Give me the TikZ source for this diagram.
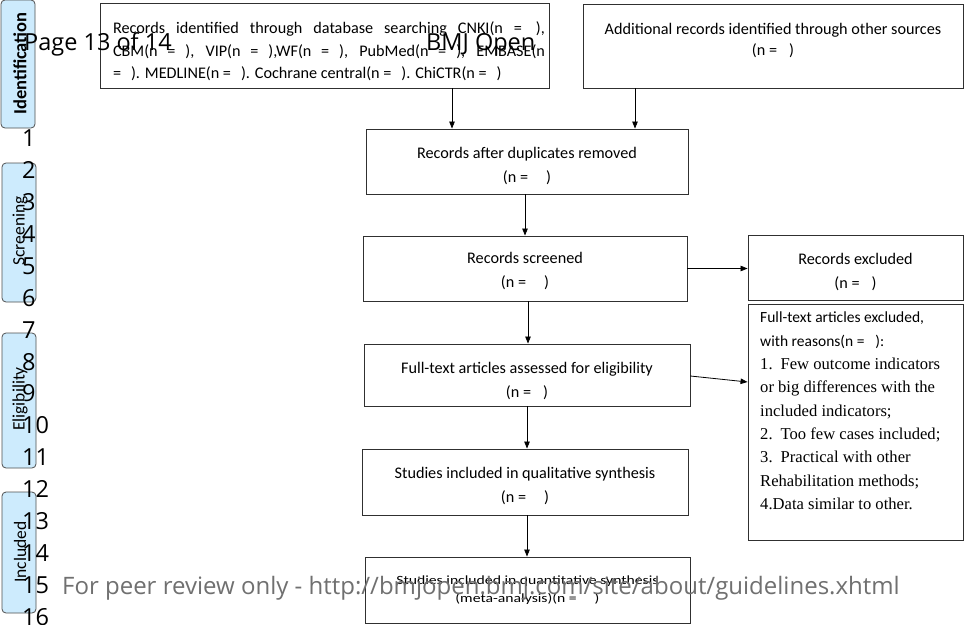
\documentclass[tikz,border=0pt]{standalone}
\usepackage{fontspec}
\setmainfont{Carlito}
\newfontfamily\osans{Open Sans}
\newfontfamily\tnr{Liberation Serif}
\usetikzlibrary{arrows.meta}
\definecolor{stagefill}{HTML}{CDEBFD}
\definecolor{stageline}{HTML}{505050}
\definecolor{boxline}{HTML}{303030}
\definecolor{footgray}{HTML}{707070}
\newcommand\tstrut[1]{\rule{0pt}{#1}}
\newcommand\bstrut[1]{\rule[-#1]{0pt}{#1}}
\newcommand\tnrline[1]{{\tnr\fontsize{16.6}{23.3}\selectfont #1}}
\tikzset{
  flowbox/.style={draw=boxline, line width=0.9pt, inner sep=0pt, align=center,
    font=\fontsize{16.2}{24}\selectfont},
  stagebox/.style={draw=stageline, fill=stagefill, line width=0.8pt, rounded corners=4pt, inner sep=0pt},
  stagetext/.style={rotate=90, inner sep=0pt, font=\fontsize{17.5}{20}\selectfont},
  arr/.style={-{Triangle[length=7pt,width=5.5pt]}, line width=0.8pt, black},
  overlay/.style={font=\osans\fontsize{23.5}{28}\selectfont, inner sep=0pt, anchor=base west},
}
\begin{document}
\begin{tikzpicture}[x=1pt,y=-1pt]
\useasboundingbox (0,0) rectangle (964,624);
\fill[white] (0,0) rectangle (964,624);

% stage boxes
\node[stagebox, minimum width=34pt, minimum height=128pt] (sIdent) at (18,64) {};
\node[stagebox, minimum width=34pt, minimum height=139pt] (sScreen) at (19,232.5) {};
\node[stagebox, minimum width=34pt, minimum height=135pt] (sElig) at (19,400.5) {};
\node[stagebox, minimum width=34pt, minimum height=121pt] (sIncl) at (19,552.5) {};
\node[stagetext, font=\bfseries\fontsize{18.5}{21}\selectfont] (tIdent) at (20,63.5) {Identification};
\node[stagetext] (tScreen) at (20,231) {Screening};
\node[stagetext] (tElig) at (20,399) {Eligibility};
\node[stagetext] (tIncl) at (20,552) {Included};

% flow boxes
\node[flowbox, minimum width=449pt, minimum height=85pt, font=\fontsize{16.2}{22.5}\selectfont, align=left] (db) at (324.5,45.5)
 {\tstrut{23.5pt}\hspace{9pt}\makebox[432pt][s]{Records identified through database searching CNKI(n =\hspace{14pt}),}\\
  \hspace{9pt}\makebox[432pt][s]{CBM(n =\hspace{10pt}), VIP(n =\hspace{10pt}),WF(n =\hspace{10pt}), PubMed(n =\hspace{10pt}), EMBASE(n}\\
  \hspace{9pt}=\hspace{10pt}). MEDLINE(n =\hspace{10pt}). Cochrane central(n =\hspace{10pt}). ChiCTR(n =\hspace{10pt})\hspace{16pt}};
\node[flowbox, minimum width=380pt, minimum height=84pt, font=\fontsize{16.2}{21}\selectfont] (add) at (773,46)
 {Additional records identified through other sources\\(n =\hspace{12pt})\bstrut{13.5pt}};
\node[flowbox, minimum width=322pt, minimum height=65pt] (dup) at (527,161.5)
 {\tstrut{21pt}Records after duplicates removed\\(n =\hspace{18pt})};
\node[flowbox, minimum width=324pt, minimum height=65pt] (scr) at (525,268.5)
 {\tstrut{16.5pt}Records screened\\(n =\hspace{18pt})};
\node[flowbox, minimum width=215pt, minimum height=65pt] (excl) at (855.5,267.5)
 {\tstrut{19.5pt}Records excluded\\(n =\hspace{12pt})};
\node[flowbox, minimum width=326pt, minimum height=62pt] (full) at (527,375)
 {\tstrut{22.5pt}Full-text articles assessed for eligibility\\(n =\hspace{12pt})};
\node[flowbox, minimum width=215pt, minimum height=236pt] (ftex) at (855.5,422) {};
\node[flowbox, minimum width=326pt, minimum height=66pt] (qual) at (525,482)
 {\tstrut{19.5pt}Studies included in qualitative synthesis\\(n =\hspace{18pt})};
\node[flowbox, minimum width=325pt, minimum height=66pt, font=\fontsize{15.7}{17.5}\selectfont] (quant) at (527.5,590)
 {\scalebox{1}[0.8]{Studies included in quantitative synthesis}\\\scalebox{1}[0.8]{(meta-analysis)(n =\hspace{18pt})}};

% text of the full-text exclusion box
\node[anchor=north west, inner sep=0pt, align=left, font=\fontsize{15.5}{23.3}\selectfont] (ftexT) at (760,312)
 {Full-text articles excluded,\\
  with reasons(n =\hspace{11pt}):\\
  \tnrline{1.\hspace{8pt}Few outcome indicators}\\
  \tnrline{or big differences with the}\\
  \tnrline{included indicators;}\\
  \tnrline{2.\hspace{8pt}Too few cases included;}\\
  \tnrline{3.\hspace{8pt}Practical with other}\\
  \tnrline{Rehabilitation methods;}\\
  \tnrline{4.Data similar to other.}};

% connectors
\coordinate (xa) at (452,0);
\coordinate (xb) at (635,0);
\coordinate (xc) at (525,0);
\coordinate (xd) at (528,0);
\coordinate (xe) at (527,0);
\draw[arr] (db.south -| xa) -- (dup.north -| xa);
\draw[arr] (add.south -| xb) -- (dup.north -| xb);
\draw[arr] (dup.south -| xc) -- (scr.north -| xc);
\draw[arr] (scr.east) -- (scr.east -| excl.west);
\draw[arr] (scr.south -| xd) -- (full.north -| xd);
\draw[arr] ([yshift=-1pt]full.east) -- ([yshift=40pt]ftex.west);
\draw[arr] (full.south -| xe) -- (qual.north -| xe);
\draw[arr] (qual.south -| xe) -- (quant.north -| xe);

% page overlay texts
\node[overlay] (pg) at (24,50) {Page 13 of 14};
\node[overlay] (bmj) at (426,50) {BMJ Open};
\foreach \k in {1,...,16} {
  \node[overlay] (ln\k) at (22,{146.5+31.93*(\k-1)}) {\k};
}
\node[overlay, text=footgray, font=\osans\fontsize{24}{28}\selectfont] (foot) at (62,594) {For peer review only - http://bmjopen.bmj.com/site/about/guidelines.xhtml};
\end{tikzpicture}
\end{document}
